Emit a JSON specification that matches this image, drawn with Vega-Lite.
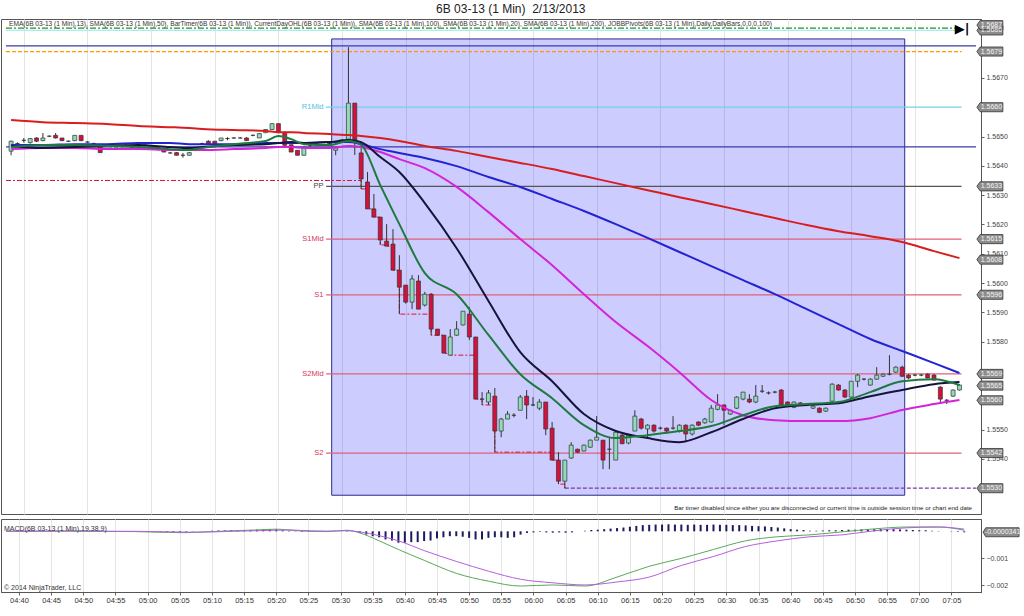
{
"$schema": "https://vega.github.io/schema/vega-lite/v6.json",
"padding": {"top": 2, "left": 0, "right": 0, "bottom": 0},
"background": "white",
"title": {"text": "6B 03-13 (1 Min) \u00a02/13/2013", "fontSize": 12, "fontWeight": "normal", "font": "Liberation Sans", "color": "#222222", "offset": 3, "anchor": "middle"},
"config": {"view": {"stroke": "#555555"}, "font": "Liberation Sans", "axis": {"labelOverlap": false}},
"spacing": 3,
"resolve": {"scale": {"x": "independent", "y": "independent", "color": "independent", "strokeDash": "independent"}},
"datasets": {
"candles": [
{"m":278,"o":1.5645,"h":1.56486,"l":1.56436,"c":1.56484,"hs":0},
{"m":279,"o":1.56476,"h":1.5648,"l":1.56472,"c":1.56476,"hs":0},
{"m":280,"o":1.56487,"h":1.56495,"l":1.56479,"c":1.56487,"hs":0},
{"m":281,"o":1.56479,"h":1.56495,"l":1.56476,"c":1.56493,"hs":0},
{"m":282,"o":1.56495,"h":1.56498,"l":1.56481,"c":1.56484,"hs":0},
{"m":283,"o":1.56486,"h":1.56512,"l":1.56484,"c":1.56495,"hs":0},
{"m":284,"o":1.56501,"h":1.56504,"l":1.56498,"c":1.56501,"hs":0},
{"m":285,"o":1.56504,"h":1.56512,"l":1.56493,"c":1.56495,"hs":0},
{"m":286,"o":1.56495,"h":1.56495,"l":1.56484,"c":1.56486,"hs":0},
{"m":287,"o":1.56484,"h":1.56486,"l":1.56481,"c":1.56484,"hs":0},
{"m":288,"o":1.56486,"h":1.56504,"l":1.56484,"c":1.56504,"hs":0},
{"m":289,"o":1.56504,"h":1.56504,"l":1.56484,"c":1.56486,"hs":0},
{"m":290,"o":1.56481,"h":1.56484,"l":1.56479,"c":1.56481,"hs":0},
{"m":291,"o":1.56476,"h":1.56479,"l":1.56473,"c":1.56476,"hs":0},
{"m":292,"o":1.56472,"h":1.56472,"l":1.56444,"c":1.56445,"hs":0},
{"m":293,"o":1.5647,"h":1.56472,"l":1.56468,"c":1.5647,"hs":0},
{"m":294,"o":1.56456,"h":1.56472,"l":1.56455,"c":1.5647,"hs":0},
{"m":295,"o":1.56456,"h":1.5647,"l":1.56455,"c":1.5647,"hs":0},
{"m":296,"o":1.5647,"h":1.56472,"l":1.56468,"c":1.5647,"hs":0},
{"m":297,"o":1.56464,"h":1.5647,"l":1.56456,"c":1.56464,"hs":0},
{"m":298,"o":1.56472,"h":1.56475,"l":1.5647,"c":1.56472,"hs":0},
{"m":299,"o":1.5647,"h":1.56472,"l":1.56468,"c":1.5647,"hs":0},
{"m":300,"o":1.56456,"h":1.56464,"l":1.56455,"c":1.56464,"hs":0},
{"m":301,"o":1.56464,"h":1.56464,"l":1.56455,"c":1.56456,"hs":-0.00001},
{"m":302,"o":1.56455,"h":1.56456,"l":1.56447,"c":1.56447,"hs":-0.00002},
{"m":303,"o":1.56444,"h":1.56447,"l":1.56441,"c":1.56444,"hs":-0.00002},
{"m":304,"o":1.56445,"h":1.56447,"l":1.56436,"c":1.56436,"hs":-0.00003},
{"m":305,"o":1.56436,"h":1.56444,"l":1.56428,"c":1.56436,"hs":-0.00003},
{"m":306,"o":1.56436,"h":1.56447,"l":1.56436,"c":1.56445,"hs":-0.00002},
{"m":307,"o":1.56453,"h":1.56456,"l":1.5645,"c":1.56453,"hs":-0.00001},
{"m":308,"o":1.56476,"h":1.56479,"l":1.56472,"c":1.56476,"hs":0},
{"m":309,"o":1.56484,"h":1.56487,"l":1.56475,"c":1.56475,"hs":0.00001},
{"m":310,"o":1.56484,"h":1.56484,"l":1.56475,"c":1.56475,"hs":0.00002},
{"m":311,"o":1.56486,"h":1.56495,"l":1.56484,"c":1.56495,"hs":0.00003},
{"m":312,"o":1.56493,"h":1.56498,"l":1.56487,"c":1.56493,"hs":0.00003},
{"m":313,"o":1.56495,"h":1.56498,"l":1.56493,"c":1.56495,"hs":0.00004},
{"m":314,"o":1.56495,"h":1.56498,"l":1.56493,"c":1.56495,"hs":0.00004},
{"m":315,"o":1.56495,"h":1.56498,"l":1.56486,"c":1.56486,"hs":0.00004},
{"m":316,"o":1.56504,"h":1.56507,"l":1.56501,"c":1.56504,"hs":0.00005},
{"m":317,"o":1.56495,"h":1.56512,"l":1.56495,"c":1.5651,"hs":0.00006},
{"m":318,"o":1.56513,"h":1.56524,"l":1.56513,"c":1.56524,"hs":0.00007},
{"m":319,"o":1.56524,"h":1.56544,"l":1.56524,"c":1.56544,"hs":0.00008},
{"m":320,"o":1.56544,"h":1.56544,"l":1.56513,"c":1.56513,"hs":0.00007},
{"m":321,"o":1.56515,"h":1.56515,"l":1.56464,"c":1.5647,"hs":0.00004},
{"m":322,"o":1.56472,"h":1.56472,"l":1.56447,"c":1.56447,"hs":0.00002},
{"m":323,"o":1.56453,"h":1.56453,"l":1.56436,"c":1.56436,"hs":-0.00001},
{"m":324,"o":1.56436,"h":1.56464,"l":1.56436,"c":1.56464,"hs":-0.00002},
{"m":325,"o":1.5647,"h":1.56476,"l":1.56464,"c":1.5647,"hs":-0.00002},
{"m":326,"o":1.56472,"h":1.56476,"l":1.56468,"c":1.56472,"hs":-0.00002},
{"m":327,"o":1.5647,"h":1.56472,"l":1.56468,"c":1.5647,"hs":-0.00002},
{"m":328,"o":1.56476,"h":1.56479,"l":1.56472,"c":1.56476,"hs":-0.00001},
{"m":329,"o":1.56453,"h":1.56464,"l":1.56436,"c":1.56461,"hs":-0.00001},
{"m":330,"o":1.56485,"h":1.5649,"l":1.5648,"c":1.56485,"hs":0},
{"m":331,"o":1.56491,"h":1.56805,"l":1.56481,"c":1.56614,"hs":0.00002},
{"m":332,"o":1.56614,"h":1.56614,"l":1.56437,"c":1.56481,"hs":0.00001},
{"m":333,"o":1.56444,"h":1.56481,"l":1.56321,"c":1.56355,"hs":-0.00005},
{"m":334,"o":1.56345,"h":1.56379,"l":1.56253,"c":1.56253,"hs":-0.00012},
{"m":335,"o":1.56253,"h":1.56304,"l":1.56225,"c":1.56225,"hs":-0.00018},
{"m":336,"o":1.56225,"h":1.56225,"l":1.5613,"c":1.56147,"hs":-0.00022},
{"m":337,"o":1.56143,"h":1.56201,"l":1.56126,"c":1.56126,"hs":-0.0003},
{"m":338,"o":1.56133,"h":1.56184,"l":1.56044,"c":1.56044,"hs":-0.00034},
{"m":339,"o":1.56044,"h":1.56095,"l":1.55894,"c":1.55986,"hs":-0.00042},
{"m":340,"o":1.55993,"h":1.55993,"l":1.5593,"c":1.55935,"hs":-0.00042},
{"m":341,"o":1.55935,"h":1.56027,"l":1.55911,"c":1.56014,"hs":-0.0004},
{"m":342,"o":1.56007,"h":1.56027,"l":1.55911,"c":1.55911,"hs":-0.0004},
{"m":343,"o":1.55925,"h":1.5597,"l":1.5592,"c":1.55962,"hs":-0.00036},
{"m":344,"o":1.55962,"h":1.55966,"l":1.55822,"c":1.55843,"hs":-0.00034},
{"m":345,"o":1.55843,"h":1.55843,"l":1.55822,"c":1.55822,"hs":-0.00026},
{"m":346,"o":1.55822,"h":1.55822,"l":1.5576,"c":1.55761,"hs":-0.00022},
{"m":347,"o":1.55754,"h":1.55843,"l":1.55754,"c":1.55816,"hs":-0.00018},
{"m":348,"o":1.55822,"h":1.5587,"l":1.5582,"c":1.55843,"hs":-0.00018},
{"m":349,"o":1.55857,"h":1.55904,"l":1.55855,"c":1.55904,"hs":-0.0002},
{"m":350,"o":1.55894,"h":1.55918,"l":1.55806,"c":1.55816,"hs":-0.00024},
{"m":351,"o":1.55816,"h":1.55816,"l":1.55604,"c":1.55604,"hs":-0.0003},
{"m":352,"o":1.55604,"h":1.55628,"l":1.55584,"c":1.55604,"hs":-0.0003},
{"m":353,"o":1.55594,"h":1.55635,"l":1.55584,"c":1.55625,"hs":-0.00024},
{"m":354,"o":1.55614,"h":1.55642,"l":1.55423,"c":1.55495,"hs":-0.00022},
{"m":355,"o":1.55495,"h":1.5554,"l":1.55474,"c":1.55536,"hs":-0.00022},
{"m":356,"o":1.55536,"h":1.55563,"l":1.55536,"c":1.55553,"hs":-0.00024},
{"m":357,"o":1.55549,"h":1.55556,"l":1.55542,"c":1.55549,"hs":-0.00022},
{"m":358,"o":1.55566,"h":1.55618,"l":1.55566,"c":1.55611,"hs":-0.00012},
{"m":359,"o":1.55614,"h":1.55635,"l":1.55536,"c":1.55584,"hs":-0.00006},
{"m":360,"o":1.55584,"h":1.55611,"l":1.5558,"c":1.55584,"hs":-0.00004},
{"m":361,"o":1.55573,"h":1.55604,"l":1.55566,"c":1.55594,"hs":-0.00002},
{"m":362,"o":1.55594,"h":1.55594,"l":1.55481,"c":1.55502,"hs":-0.00004},
{"m":363,"o":1.55505,"h":1.55526,"l":1.55396,"c":1.55396,"hs":-0.00005},
{"m":364,"o":1.55396,"h":1.55423,"l":1.55314,"c":1.55324,"hs":-0.00004},
{"m":365,"o":1.55324,"h":1.55396,"l":1.553,"c":1.55396,"hs":-0.00005},
{"m":366,"o":1.55403,"h":1.55457,"l":1.554,"c":1.55447,"hs":-0.00004},
{"m":367,"o":1.55433,"h":1.55435,"l":1.5542,"c":1.55423,"hs":0},
{"m":368,"o":1.55427,"h":1.55449,"l":1.55425,"c":1.55447,"hs":0.00002},
{"m":369,"o":1.5544,"h":1.55466,"l":1.55438,"c":1.55464,"hs":0.00005},
{"m":370,"o":1.55464,"h":1.55546,"l":1.55464,"c":1.55474,"hs":0.00006},
{"m":371,"o":1.55464,"h":1.55464,"l":1.55365,"c":1.55396,"hs":0.00008},
{"m":372,"o":1.55433,"h":1.55471,"l":1.55365,"c":1.55433,"hs":0.0001},
{"m":373,"o":1.55396,"h":1.55491,"l":1.55396,"c":1.55491,"hs":0.00012},
{"m":374,"o":1.55481,"h":1.55485,"l":1.5545,"c":1.55452,"hs":0.00014},
{"m":375,"o":1.55454,"h":1.55483,"l":1.5545,"c":1.55481,"hs":0.00017},
{"m":376,"o":1.55495,"h":1.55566,"l":1.55495,"c":1.55546,"hs":0.0002},
{"m":377,"o":1.55536,"h":1.5554,"l":1.555,"c":1.55505,"hs":0.00023},
{"m":378,"o":1.55502,"h":1.55518,"l":1.55474,"c":1.55515,"hs":0.00024},
{"m":379,"o":1.55515,"h":1.55518,"l":1.5549,"c":1.55495,"hs":0.00025},
{"m":380,"o":1.55505,"h":1.5551,"l":1.555,"c":1.55505,"hs":0.00025},
{"m":381,"o":1.55505,"h":1.55507,"l":1.55485,"c":1.55495,"hs":0.00026},
{"m":382,"o":1.55505,"h":1.55546,"l":1.555,"c":1.55505,"hs":0.00025},
{"m":383,"o":1.55495,"h":1.55518,"l":1.5549,"c":1.55515,"hs":0.00025},
{"m":384,"o":1.55515,"h":1.55518,"l":1.55457,"c":1.55485,"hs":0.00024},
{"m":385,"o":1.55485,"h":1.55518,"l":1.5548,"c":1.55515,"hs":0.00025},
{"m":386,"o":1.55526,"h":1.55528,"l":1.55512,"c":1.55515,"hs":0.00024},
{"m":387,"o":1.55523,"h":1.5554,"l":1.5552,"c":1.55536,"hs":0.00024},
{"m":388,"o":1.55526,"h":1.55584,"l":1.55524,"c":1.55573,"hs":0.00025},
{"m":389,"o":1.55569,"h":1.55621,"l":1.55566,"c":1.55584,"hs":0.00024},
{"m":390,"o":1.55584,"h":1.55586,"l":1.55515,"c":1.55566,"hs":0.00024},
{"m":391,"o":1.55553,"h":1.55568,"l":1.5555,"c":1.55566,"hs":0.00023},
{"m":392,"o":1.55573,"h":1.55614,"l":1.5557,"c":1.55611,"hs":0.00023},
{"m":393,"o":1.55604,"h":1.55628,"l":1.556,"c":1.55628,"hs":0.00022},
{"m":394,"o":1.55604,"h":1.55621,"l":1.5559,"c":1.55594,"hs":0.0002},
{"m":395,"o":1.55594,"h":1.55652,"l":1.5559,"c":1.55614,"hs":0.00019},
{"m":396,"o":1.55631,"h":1.55652,"l":1.55625,"c":1.55631,"hs":0.00018},
{"m":397,"o":1.55625,"h":1.5563,"l":1.5562,"c":1.55625,"hs":0.00016},
{"m":398,"o":1.55628,"h":1.55632,"l":1.55624,"c":1.55628,"hs":0.00014},
{"m":399,"o":1.55635,"h":1.55638,"l":1.5558,"c":1.55584,"hs":0.00011},
{"m":400,"o":1.55594,"h":1.55596,"l":1.5558,"c":1.55584,"hs":0.00008},
{"m":401,"o":1.55576,"h":1.55596,"l":1.55573,"c":1.55594,"hs":0.00006},
{"m":402,"o":1.55591,"h":1.55594,"l":1.55582,"c":1.55584,"hs":0.00005},
{"m":403,"o":1.55584,"h":1.55588,"l":1.5558,"c":1.55584,"hs":0.00002},
{"m":404,"o":1.55573,"h":1.55583,"l":1.5557,"c":1.5558,"hs":0.00002},
{"m":405,"o":1.55573,"h":1.55576,"l":1.55556,"c":1.55559,"hs":0.00003},
{"m":406,"o":1.55563,"h":1.55575,"l":1.5556,"c":1.55573,"hs":0.00004},
{"m":407,"o":1.55597,"h":1.55658,"l":1.55595,"c":1.55655,"hs":0.00004},
{"m":408,"o":1.55652,"h":1.55655,"l":1.55633,"c":1.55635,"hs":0.00005},
{"m":409,"o":1.55635,"h":1.55638,"l":1.55608,"c":1.55611,"hs":0.00006},
{"m":410,"o":1.55611,"h":1.55665,"l":1.55608,"c":1.55665,"hs":0.00006},
{"m":411,"o":1.55665,"h":1.5569,"l":1.55645,"c":1.55686,"hs":0.00007},
{"m":412,"o":1.55672,"h":1.55676,"l":1.55668,"c":1.55672,"hs":0.00007},
{"m":413,"o":1.55652,"h":1.55675,"l":1.5565,"c":1.55672,"hs":0.00008},
{"m":414,"o":1.55672,"h":1.55713,"l":1.5567,"c":1.55686,"hs":0.00008},
{"m":415,"o":1.55682,"h":1.55692,"l":1.5568,"c":1.55689,"hs":0.00008},
{"m":416,"o":1.55689,"h":1.55754,"l":1.55685,"c":1.55689,"hs":0.00008},
{"m":417,"o":1.55696,"h":1.55716,"l":1.55693,"c":1.55713,"hs":0.00007},
{"m":418,"o":1.55713,"h":1.55718,"l":1.5568,"c":1.55682,"hs":0.00006},
{"m":419,"o":1.55686,"h":1.5569,"l":1.55672,"c":1.55676,"hs":0.00005},
{"m":420,"o":1.55686,"h":1.5569,"l":1.55682,"c":1.55686,"hs":0.00004},
{"m":421,"o":1.55686,"h":1.5569,"l":1.55682,"c":1.55686,"hs":0.00004},
{"m":422,"o":1.55689,"h":1.55692,"l":1.55674,"c":1.55676,"hs":0.00002},
{"m":423,"o":1.55686,"h":1.5569,"l":1.55668,"c":1.55669,"hs":0.00001},
{"m":424,"o":1.55645,"h":1.55648,"l":1.55594,"c":1.55604,"hs":0},
{"m":425,"o":1.556,"h":1.55604,"l":1.55587,"c":1.556,"hs":-0.00001},
{"m":426,"o":1.55614,"h":1.55637,"l":1.55612,"c":1.55635,"hs":-0.00002},
{"m":427,"o":1.55635,"h":1.55655,"l":1.55633,"c":1.55652,"hs":-0.0000341}
],
"ma": [
{"m":278,"ema13":1.56464,"sma20":1.56468,"sma50":1.56457,"sma100":1.56471,"sma200":1.56556,"macd":0,"sig":0},
{"m":283,"ema13":1.56471,"sma20":1.56461,"sma50":1.56461,"sma100":1.56471,"sma200":1.56549,"macd":0.00001,"sig":0},
{"m":288,"ema13":1.56471,"sma20":1.56464,"sma50":1.56461,"sma100":1.56474,"sma200":1.56546,"macd":0.00001,"sig":0.00001},
{"m":293,"ema13":1.56468,"sma20":1.56468,"sma50":1.56457,"sma100":1.56474,"sma200":1.56543,"macd":0,"sig":0},
{"m":298,"ema13":1.56464,"sma20":1.56471,"sma50":1.56457,"sma100":1.56478,"sma200":1.56536,"macd":-0.00001,"sig":0},
{"m":303,"ema13":1.56457,"sma20":1.56464,"sma50":1.56454,"sma100":1.56478,"sma200":1.56532,"macd":-0.00004,"sig":-0.00002},
{"m":306,"ema13":1.56454,"sma20":1.56461,"sma50":1.56454,"sma100":1.56474,"sma200":1.56529,"macd":-0.00005,"sig":-0.00003},
{"m":308,"ema13":1.56461,"sma20":1.56464,"sma50":1.56454,"sma100":1.56474,"sma200":1.56526,"macd":-0.00003,"sig":-0.00003},
{"m":313,"ema13":1.56474,"sma20":1.56471,"sma50":1.56457,"sma100":1.56474,"sma200":1.56522,"macd":0.00002,"sig":0},
{"m":318,"ema13":1.56485,"sma20":1.56474,"sma50":1.56461,"sma100":1.56478,"sma200":1.56519,"macd":0.00006,"sig":0.00003},
{"m":320,"ema13":1.56502,"sma20":1.56478,"sma50":1.56464,"sma100":1.56478,"sma200":1.56515,"macd":0.00008,"sig":0.00004},
{"m":322,"ema13":1.56491,"sma20":1.56481,"sma50":1.56464,"sma100":1.56478,"sma200":1.56515,"macd":0.00005,"sig":0.00005},
{"m":324,"ema13":1.56474,"sma20":1.56478,"sma50":1.56461,"sma100":1.56478,"sma200":1.56512,"macd":0.00001,"sig":0.00003},
{"m":328,"ema13":1.56471,"sma20":1.56481,"sma50":1.56461,"sma100":1.56481,"sma200":1.56509,"macd":-0.00001,"sig":0.00001},
{"m":331,"ema13":1.56485,"sma20":1.56488,"sma50":1.56468,"sma100":1.56481,"sma200":1.56505,"macd":0.00004,"sig":0.00002},
{"m":333,"ema13":1.56471,"sma20":1.56481,"sma50":1.56464,"sma100":1.56474,"sma200":1.56502,"macd":-0.00006,"sig":-0.00002},
{"m":336,"ema13":1.56334,"sma20":1.5643,"sma50":1.56447,"sma100":1.56457,"sma200":1.56495,"macd":-0.00035,"sig":-0.00016},
{"m":339,"ema13":1.56201,"sma20":1.56379,"sma50":1.56423,"sma100":1.56444,"sma200":1.56485,"macd":-0.00067,"sig":-0.00035},
{"m":343,"ema13":1.56034,"sma20":1.56273,"sma50":1.56392,"sma100":1.56427,"sma200":1.56468,"macd":-0.00107,"sig":-0.00071},
{"m":348,"ema13":1.55962,"sma20":1.56119,"sma50":1.56328,"sma100":1.56399,"sma200":1.56451,"macd":-0.00155,"sig":-0.00111},
{"m":353,"ema13":1.55823,"sma20":1.55939,"sma50":1.56242,"sma100":1.56362,"sma200":1.5643,"macd":-0.00184,"sig":-0.00147},
{"m":358,"ema13":1.55689,"sma20":1.55764,"sma50":1.5615,"sma100":1.56328,"sma200":1.5641,"macd":-0.00202,"sig":-0.00177},
{"m":363,"ema13":1.55607,"sma20":1.55665,"sma50":1.56061,"sma100":1.56287,"sma200":1.56389,"macd":-0.00198,"sig":-0.0019},
{"m":368,"ema13":1.55515,"sma20":1.55553,"sma50":1.55962,"sma100":1.56246,"sma200":1.56365,"macd":-0.00202,"sig":-0.00198},
{"m":373,"ema13":1.55471,"sma20":1.55495,"sma50":1.55867,"sma100":1.56201,"sma200":1.56341,"macd":-0.00169,"sig":-0.00187},
{"m":378,"ema13":1.55481,"sma20":1.55471,"sma50":1.55785,"sma100":1.56154,"sma200":1.56317,"macd":-0.00129,"sig":-0.00169},
{"m":383,"ema13":1.55495,"sma20":1.55457,"sma50":1.55696,"sma100":1.56106,"sma200":1.56293,"macd":-0.001,"sig":-0.00126},
{"m":388,"ema13":1.55512,"sma20":1.55491,"sma50":1.55601,"sma100":1.56058,"sma200":1.5627,"macd":-0.00067,"sig":-0.00093},
{"m":393,"ema13":1.55549,"sma20":1.55536,"sma50":1.55549,"sma100":1.5601,"sma200":1.56246,"macd":-0.00035,"sig":-0.00056},
{"m":398,"ema13":1.5558,"sma20":1.55573,"sma50":1.55532,"sma100":1.55962,"sma200":1.56222,"macd":-0.0002,"sig":-0.00035},
{"m":403,"ema13":1.55587,"sma20":1.55584,"sma50":1.55529,"sma100":1.55911,"sma200":1.56198,"macd":-0.00013,"sig":-0.0002},
{"m":408,"ema13":1.55594,"sma20":1.5559,"sma50":1.55529,"sma100":1.5586,"sma200":1.56177,"macd":-0.00002,"sig":-0.00013},
{"m":413,"ema13":1.55628,"sma20":1.55614,"sma50":1.55539,"sma100":1.55809,"sma200":1.5616,"macd":0.00009,"sig":0.00002},
{"m":418,"ema13":1.55665,"sma20":1.55635,"sma50":1.55567,"sma100":1.55768,"sma200":1.5614,"macd":0.00016,"sig":0.00013},
{"m":423,"ema13":1.55672,"sma20":1.55655,"sma50":1.55587,"sma100":1.55727,"sma200":1.56109,"macd":0.00016,"sig":0.00016},
{"m":427,"ema13":1.55652,"sma20":1.55662,"sma50":1.55601,"sma100":1.55693,"sma200":1.56085,"macd":0.00004,"sig":0.00008}
],
"hlines": [
{"m":277.2,"m2":427.33,"v":1.56862,"k":"hi2"},
{"m":277.2,"m2":427.33,"v":1.5687,"k":"hi"},
{"m":277.2,"m2":429.6,"v":1.56809,"k":"navy"},
{"m":277.2,"m2":427.33,"v":1.5679,"k":"orange"},
{"m":277.2,"m2":429.6,"v":1.56465,"k":"navy"},
{"m":327.5,"m2":427.33,"v":1.566,"k":"r"},
{"m":327.5,"m2":427.33,"v":1.5633,"k":"pp"},
{"m":327.5,"m2":427.33,"v":1.5615,"k":"s"},
{"m":327.5,"m2":427.33,"v":1.5596,"k":"s"},
{"m":327.5,"m2":427.33,"v":1.5569,"k":"s"},
{"m":327.5,"m2":427.33,"v":1.5542,"k":"s"},
{"m":365,"m2":429.6,"v":1.553,"k":"lowp"}
],
"lowstep": [
{"m":277.2,"v":1.5635},
{"m":333,"v":1.56321},
{"m":334,"v":1.56253},
{"m":335,"v":1.56225},
{"m":336,"v":1.5613},
{"m":337,"v":1.56126},
{"m":338,"v":1.56044},
{"m":339,"v":1.55894},
{"m":344,"v":1.55822},
{"m":346,"v":1.5576},
{"m":347,"v":1.55754},
{"m":351,"v":1.55604},
{"m":352,"v":1.55584},
{"m":354,"v":1.55423},
{"m":363,"v":1.55396},
{"m":364,"v":1.55314},
{"m":365,"v":1.553}
],
"pivlbl": [
{"v":1.566,"lbl":"R1Mid","k":"r"},
{"v":1.5633,"lbl":"PP","k":"pp"},
{"v":1.5615,"lbl":"S1Mid","k":"s"},
{"v":1.5596,"lbl":"S1","k":"s"},
{"v":1.5569,"lbl":"S2Mid","k":"s"},
{"v":1.5542,"lbl":"S2","k":"s"}
],
"ptags": [
{"v":1.56862,"lbl":"1.5686"},
{"v":1.5688,"lbl":"1.5687"},
{"v":1.5679,"lbl":"1.5679"},
{"v":1.566,"lbl":"1.5660"},
{"v":1.5633,"lbl":"1.5633"},
{"v":1.5615,"lbl":"1.5615"},
{"v":1.5608,"lbl":"1.5608"},
{"v":1.5596,"lbl":"1.5596"},
{"v":1.5569,"lbl":"1.5569"},
{"v":1.5565,"lbl":"1.5565"},
{"v":1.556,"lbl":"1.5560"},
{"v":1.5542,"lbl":"1.5542"},
{"v":1.553,"lbl":"1.5530"}
],
"mtags": [
{"v":-0.0000341,"lbl":"-0.0000341"}
]
},
"vconcat": [
{
"width": 980,
"height": 495,
"layer": [
{
"data": {"values": [{"m":328.37,"m2":418.4,"v":1.56833,"v2":1.55276}]},
"mark": {"type": "rect", "fill": "#0000ff", "fillOpacity": 0.2, "stroke": "#2c2c90", "strokeWidth": 1},
"encoding": {
"x": {"field": "m", "type": "quantitative", "scale": {"domain": [277.2, 429.6], "nice": false, "zero": false},
 "axis": {"labels": false, "ticks": false, "domain": false, "grid": true, "gridColor": "#e4e4e4", "title": null, "values": [280,285,290,295,300,305,310,315,320,325,330,335,340,345,350,355,360,365,370,375,380,385,390,395,400,405,410,415,420,425]}},
"x2": {"field": "m2"},
"y": {"field": "v", "type": "quantitative", "scale": {"domain": [1.55212, 1.56901], "nice": false, "zero": false},
 "axis": {"orient": "right", "values": [1.554, 1.555, 1.558, 1.559, 1.56, 1.561, 1.562, 1.563, 1.564, 1.565, 1.567], "format": ".4f", "labelFontSize": 7, "labelColor": "#444444", "tickSize": 3, "tickColor": "#666666", "domainColor": "#555555", "grid": false, "title": null, "labelPadding": 2, "labelOverlap": false}},
"y2": {"field": "v2"}
}
},
{
"data": {"name": "hlines"},
"mark": {"type": "rule", "strokeWidth": 1.2},
"encoding": {
"x": {"field": "m", "type": "quantitative", "scale": {"domain": [277.2, 429.6], "nice": false, "zero": false}},
"x2": {"field": "m2"},
"y": {"field": "v", "type": "quantitative", "scale": {"domain": [1.55212, 1.56901], "nice": false, "zero": false}},
"color": {"field": "k", "type": "nominal", "legend": null, "scale": {"domain": ["hi","hi2","navy","orange","r","pp","s","lowp"], "range": ["#2e8b2e","#a8ecec","#3b3ba8","#ff9900","#6fd3e6","#555555","#e0607a","#7a3aa8"]}},
"strokeDash": {"field": "k", "type": "nominal", "legend": null, "scale": {"domain": ["hi","hi2","navy","orange","r","pp","s","lowp"], "range": [[6,2,2,2],[1,0],[1,0],[4,2],[1,0],[1,0],[1,0],[4,2]]}}
}
},
{
"data": {"name": "lowstep"},
"mark": {"type": "line", "interpolate": "step-after", "color": "#dd1133", "strokeWidth": 1, "strokeDash": [5,2,2,2]},
"encoding": {
"x": {"field": "m", "type": "quantitative", "scale": {"domain": [277.2, 429.6], "nice": false, "zero": false}},
"y": {"field": "v", "type": "quantitative", "scale": {"domain": [1.55212, 1.56901], "nice": false, "zero": false}}
}
},
{
"data": {"name": "pivlbl"},
"mark": {"type": "text", "align": "right", "baseline": "middle", "fontSize": 7.5, "dx": -1},
"encoding": {
"x": {"datum": 327.25, "type": "quantitative"},
"y": {"field": "v", "type": "quantitative", "scale": {"domain": [1.55212, 1.56901], "nice": false, "zero": false}},
"text": {"field": "lbl"},
"color": {"field": "k", "type": "nominal", "legend": null, "scale": {"domain": ["r","pp","s"], "range": ["#4cc3dc","#444444","#d8335a"]}}
}
},
{
"data": {"name": "candles"},
"mark": {"type": "rule", "color": "#333333", "strokeWidth": 1},
"encoding": {
"x": {"field": "m", "type": "quantitative", "scale": {"domain": [277.2, 429.6], "nice": false, "zero": false}},
"y": {"field": "l", "type": "quantitative", "scale": {"domain": [1.55212, 1.56901], "nice": false, "zero": false}},
"y2": {"field": "h"}
}
},
{
"data": {"name": "candles"},
"mark": {"type": "bar", "size": 4, "stroke": "#333333", "strokeWidth": 0.7},
"encoding": {
"x": {"field": "m", "type": "quantitative", "scale": {"domain": [277.2, 429.6], "nice": false, "zero": false}},
"y": {"field": "o", "type": "quantitative", "scale": {"domain": [1.55212, 1.56901], "nice": false, "zero": false}},
"y2": {"field": "c"},
"color": {"condition": {"test": "datum.c >= datum.o", "value": "#8fdcb6"}, "value": "#d4103c"}
}
},
{
"data": {"name": "ma"},
"transform": [{"fold": ["sma200","sma100","sma50","sma20","ema13"], "as": ["s","v"]}],
"mark": {"type": "line", "interpolate": "monotone", "strokeWidth": 2},
"encoding": {
"x": {"field": "m", "type": "quantitative", "scale": {"domain": [277.2, 429.6], "nice": false, "zero": false}},
"y": {"field": "v", "type": "quantitative", "scale": {"domain": [1.55212, 1.56901], "nice": false, "zero": false}},
"color": {"field": "s", "type": "nominal", "legend": null, "scale": {"domain": ["sma200","sma100","sma50","sma20","ema13"], "range": ["#d81e1e","#2323d2","#d424d8","#15153a","#1e7a3e"]}}
}
},
{
"data": {"values": [{"txt": "EMA(6B 03-13 (1 Min),13), SMA(6B 03-13 (1 Min),50), BarTimer(6B 03-13 (1 Min)), CurrentDayOHL(6B 03-13 (1 Min)), SMA(6B 03-13 (1 Min),100), SMA(6B 03-13 (1 Min),20), SMA(6B 03-13 (1 Min),200), JOBBPivots(6B 03-13 (1 Min),Daily,DailyBars,0,0,0,100)"}]},
"mark": {"type": "text", "align": "left", "baseline": "middle", "fontSize": 6.6, "color": "#333333"},
"encoding": {
"x": {"datum": 277.67, "type": "quantitative"},
"y": {"datum": 1.56883, "type": "quantitative"},
"text": {"field": "txt"}
}
},
{
"data": {"values": [{"txt": "Bar timer disabled since either you are disconnected or current time is outside session time or chart end date"}]},
"mark": {"type": "text", "align": "right", "baseline": "middle", "fontSize": 6.2, "color": "#222222"},
"encoding": {
"x": {"datum": 428.98, "type": "quantitative"},
"y": {"datum": 1.55232, "type": "quantitative"},
"text": {"field": "txt"}
}
},
{
"data": {"values": [{"txt": "▶|"}]},
"mark": {"type": "text", "align": "center", "baseline": "middle", "fontSize": 13, "fontWeight": "bold", "font": "DejaVu Sans", "color": "#000000"},
"encoding": {
"x": {"datum": 427.42, "type": "quantitative"},
"y": {"datum": 1.56867, "type": "quantitative"},
"text": {"field": "txt"}
}
},
{
"data": {"name": "ptags"},
"mark": {"type": "point", "shape": "M-1,0L-0.75,-0.35L1,-0.35L1,0.35L-0.75,0.35Z", "size": 676, "filled": true, "color": "#8c8c8c", "stroke": "#333333", "strokeWidth": 0.8, "opacity": 1},
"encoding": {
"x": {"datum": 431.78, "type": "quantitative"},
"y": {"field": "v", "type": "quantitative", "scale": {"domain": [1.55212, 1.56901], "nice": false, "zero": false}}
}
},
{
"data": {"name": "ptags"},
"mark": {"type": "text", "align": "center", "baseline": "middle", "fontSize": 7, "color": "#f4f4f4", "dx": 1.5},
"encoding": {
"x": {"datum": 431.78, "type": "quantitative"},
"y": {"field": "v", "type": "quantitative", "scale": {"domain": [1.55212, 1.56901], "nice": false, "zero": false}},
"text": {"field": "lbl"}
}
}
],
"resolve": {"scale": {"color": "independent", "strokeDash": "independent"}}
},
{
"width": 980,
"height": 73,
"layer": [
{
"data": {"name": "candles"},
"mark": {"type": "rule", "strokeWidth": 2, "color": "#1b1b60"},
"encoding": {
"x": {"field": "m", "type": "quantitative", "scale": {"domain": [277.2, 429.6], "nice": false, "zero": false},
 "axis": {"values": [280,285,290,295,300,305,310,315,320,325,330,335,340,345,350,355,360,365,370,375,380,385,390,395,400,405,410,415,420,425], "labelExpr": "'0' + floor(datum.value / 60) + ':' + (datum.value % 60 < 10 ? '0' : '') + (datum.value % 60)", "labelFontSize": 7.5, "labelColor": "#333333", "tickSize": 3, "tickColor": "#666666", "domainColor": "#555555", "grid": true, "gridColor": "#e4e4e4", "title": null, "labelPadding": 1, "labelFlush": false, "labelOverlap": false, "labelBound": false}},
"y": {"field": "hs", "type": "quantitative", "scale": {"domain": [-0.00224, 0.000455], "nice": false, "zero": false},
 "axis": {"orient": "right", "values": [-0.001, -0.002], "format": ".3f", "labelFontSize": 7, "labelColor": "#444444", "tickSize": 3, "tickColor": "#666666", "domainColor": "#555555", "grid": false, "title": null, "labelPadding": 2}},
"y2": {"datum": 0}
}
},
{
"data": {"name": "ma"},
"transform": [{"fold": ["macd","sig"], "as": ["s","v"]}],
"mark": {"type": "line", "interpolate": "monotone", "strokeWidth": 1},
"encoding": {
"x": {"field": "m", "type": "quantitative", "scale": {"domain": [277.2, 429.6], "nice": false, "zero": false},
 "axis": {"values": [280,285,290,295,300,305,310,315,320,325,330,335,340,345,350,355,360,365,370,375,380,385,390,395,400,405,410,415,420,425], "labelExpr": "'0' + floor(datum.value / 60) + ':' + (datum.value % 60 < 10 ? '0' : '') + (datum.value % 60)", "labelFontSize": 7.5, "labelColor": "#333333", "tickSize": 3, "tickColor": "#666666", "domainColor": "#555555", "grid": true, "gridColor": "#e4e4e4", "title": null, "labelPadding": 1, "labelFlush": false, "labelOverlap": false, "labelBound": false}},
"y": {"field": "v", "type": "quantitative", "scale": {"domain": [-0.00224, 0.000455], "nice": false, "zero": false}},
"color": {"field": "s", "type": "nominal", "legend": null, "scale": {"domain": ["macd","sig"], "range": ["#5aa85a","#b45ee0"]}}
}
},
{
"data": {"name": "mtags"},
"mark": {"type": "point", "shape": "M-1,0L-0.85,-0.25L1,-0.25L1,0.25L-0.85,0.25Z", "size": 1296, "filled": true, "color": "#8c8c8c", "stroke": "#333333", "strokeWidth": 0.8, "opacity": 1},
"encoding": {
"x": {"datum": 432.72, "type": "quantitative",
 "axis": {"values": [280,285,290,295,300,305,310,315,320,325,330,335,340,345,350,355,360,365,370,375,380,385,390,395,400,405,410,415,420,425], "labelExpr": "'0' + floor(datum.value / 60) + ':' + (datum.value % 60 < 10 ? '0' : '') + (datum.value % 60)", "labelFontSize": 7.5, "labelColor": "#333333", "tickSize": 3, "tickColor": "#666666", "domainColor": "#555555", "grid": true, "gridColor": "#e4e4e4", "title": null, "labelPadding": 1, "labelFlush": false, "labelOverlap": false, "labelBound": false}},
"y": {"field": "v", "type": "quantitative", "scale": {"domain": [-0.00224, 0.000455], "nice": false, "zero": false}}
}
},
{
"data": {"name": "mtags"},
"mark": {"type": "text", "align": "center", "baseline": "middle", "fontSize": 7, "color": "#f4f4f4", "dx": 1.5},
"encoding": {
"x": {"datum": 432.72, "type": "quantitative",
 "axis": {"values": [280,285,290,295,300,305,310,315,320,325,330,335,340,345,350,355,360,365,370,375,380,385,390,395,400,405,410,415,420,425], "labelExpr": "'0' + floor(datum.value / 60) + ':' + (datum.value % 60 < 10 ? '0' : '') + (datum.value % 60)", "labelFontSize": 7.5, "labelColor": "#333333", "tickSize": 3, "tickColor": "#666666", "domainColor": "#555555", "grid": true, "gridColor": "#e4e4e4", "title": null, "labelPadding": 1, "labelFlush": false, "labelOverlap": false, "labelBound": false}},
"y": {"field": "v", "type": "quantitative", "scale": {"domain": [-0.00224, 0.000455], "nice": false, "zero": false}},
"text": {"field": "lbl"}
}
},
{
"data": {"values": [{"txt": "MACD(6B 03-13 (1 Min),19,38,9)", "v": 0.0001}, {"txt": "© 2014 NinjaTrader, LLC", "v": -0.00208}]},
"mark": {"type": "text", "align": "left", "baseline": "middle", "fontSize": 7, "color": "#333333"},
"encoding": {
"x": {"datum": 277.67, "type": "quantitative",
 "axis": {"values": [280,285,290,295,300,305,310,315,320,325,330,335,340,345,350,355,360,365,370,375,380,385,390,395,400,405,410,415,420,425], "labelExpr": "'0' + floor(datum.value / 60) + ':' + (datum.value % 60 < 10 ? '0' : '') + (datum.value % 60)", "labelFontSize": 7.5, "labelColor": "#333333", "tickSize": 3, "tickColor": "#666666", "domainColor": "#555555", "grid": true, "gridColor": "#e4e4e4", "title": null, "labelPadding": 1, "labelFlush": false, "labelOverlap": false, "labelBound": false}},
"y": {"field": "v", "type": "quantitative", "scale": {"domain": [-0.00224, 0.000455], "nice": false, "zero": false}},
"text": {"field": "txt"}
}
}
]
}
]
}
